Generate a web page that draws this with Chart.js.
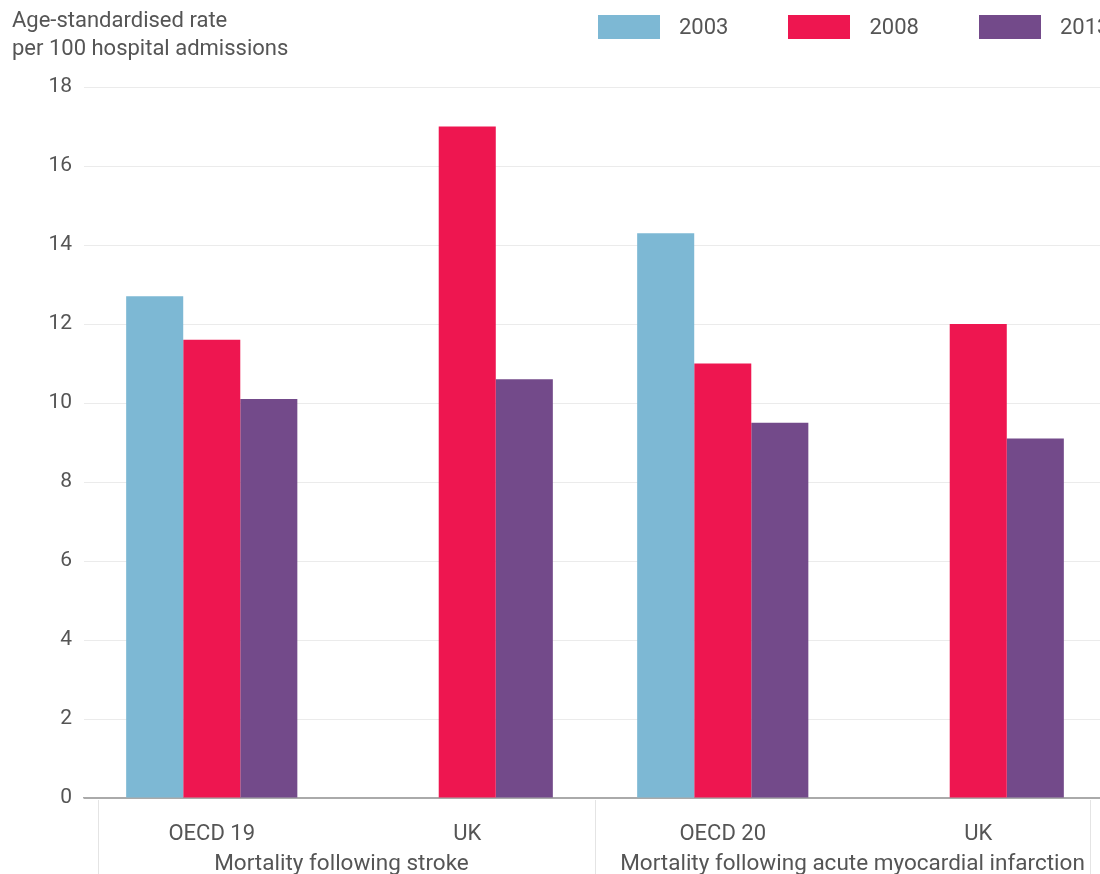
<!DOCTYPE html>
<html>
<head>
<meta charset="utf-8">
<script src="https://cdn.jsdelivr.net/npm/chart.js@4"></script>
<style>
  body { margin: 0; overflow: hidden; background: #fff; font-family: Roboto, "Liberation Sans", sans-serif; color: #555; }
  #wrap { position: relative; width: 1100px; height: 874px; overflow: hidden; }
  #title { position: absolute; left: 12px; top: 6px; font-size: 22px; line-height: 28px; color: #555; }
  #legend { position: absolute; left: 598px; top: 14px; display: flex; white-space: nowrap; }
  .item { display: flex; align-items: center; margin-right: 60px; font-size: 22px; color: #555; }
  .box { width: 62px; height: 24px; margin-right: 19px; }
  canvas { position: absolute; left: 0; top: 0; }
</style>
</head>
<body>
<div id="wrap">
  <canvas id="chart" width="1110" height="874"></canvas>
  <div id="title">Age-standardised rate<br>per 100 hospital admissions</div>
  <div id="legend"></div>
</div>
<script>
// Chart data
const categories = ['OECD 19', 'UK', 'OECD 20', 'UK'];
const groupLabels = ['Mortality following stroke', 'Mortality following acute myocardial infarction'];
const years = ['2003', '2008', '2013'];
const values2003 = [12.7, null, 14.3, null];
const values2008 = [11.6, 17.0, 11.0, 12.0];
const values2013 = [10.1, 10.6, 9.5, 9.1];
const colors = ['#7DB8D4', '#EE1650', '#734A8A'];

const seriesValues = [values2003, values2008, values2013];
const fontFamily = 'Roboto, "Liberation Sans", sans-serif';

// Build html legend
const legend = document.getElementById('legend');
years.forEach((year, i) => {
    const item = document.createElement('div');
    item.className = 'item';
    item.innerHTML = `<span class="box" style="background:${colors[i]}"></span><span>${year}</span>`;
    legend.appendChild(item);
});

// Plugin for the group row under the category labels
const groupRow = {
    id: 'groupRow',
    afterDraw(chart) {
        const ctx = chart.ctx;
        const x = chart.scales.x;
        const area = chart.chartArea;
        const step = x.getPixelForValue(1) - x.getPixelForValue(0);
        const perGroup = categories.length / groupLabels.length;

        ctx.save();
        // divider lines
        ctx.strokeStyle = '#e4e4e4';
        ctx.lineWidth = 1;
        const dividers = [area.left + 14, area.right - 16];
        for (let g = 1; g < groupLabels.length; g++) {
            dividers.push(x.getPixelForValue(g * perGroup) - step / 2);
        }
        dividers.forEach(px => {
            ctx.beginPath();
            ctx.moveTo(Math.round(px) + 0.5, area.bottom + 2);
            ctx.lineTo(Math.round(px) + 0.5, chart.height);
            ctx.stroke();
        });

        // group labels
        ctx.fillStyle = '#555';
        ctx.font = '22.5px ' + fontFamily;
        ctx.textAlign = 'center';
        ctx.textBaseline = 'middle';
        groupLabels.forEach((label, g) => {
            const a = x.getPixelForValue(g * perGroup);
            const b = x.getPixelForValue(g * perGroup + perGroup - 1);
            ctx.fillText(label, (a + b) / 2 + 2, area.bottom + 66);
        });
        ctx.restore();
    }
};

const ctx = document.getElementById('chart').getContext('2d');
new Chart(ctx, {
    type: 'bar',
    data: {
        labels: categories,
        datasets: years.map((year, i) => ({
            label: year,
            data: seriesValues[i],
            backgroundColor: colors[i],
            borderWidth: 0,
            categoryPercentage: 0.67,
            barPercentage: 1.0
        }))
    },
    options: {
        responsive: false,
        animation: false,
        layout: { padding: { top: 87, right: 4, left: 0, bottom: 0 } },
        plugins: {
            legend: { display: false },
            tooltip: { enabled: false }
        },
        scales: {
            x: {
                grid: { display: false },
                border: { display: true, color: '#aaa', width: 1.5 },
                ticks: {
                    color: '#555',
                    padding: 15,
                    font: { family: fontFamily, size: 22 }
                },
                afterFit: s => { s.height = 76; }
            },
            y: {
                min: 0,
                max: 18,
                ticks: {
                    stepSize: 2,
                    color: '#555',
                    padding: 12,
                    font: { family: fontFamily, size: 21 }
                },
                grid: {
                    drawTicks: false,
                    color: c => c.tick && c.tick.value === 0 ? '#aaa' : '#ebebeb'
                },
                border: { display: false },
                afterFit: s => { s.width = 84; }
            }
        }
    },
    plugins: [groupRow]
});
</script>
</body>
</html>
